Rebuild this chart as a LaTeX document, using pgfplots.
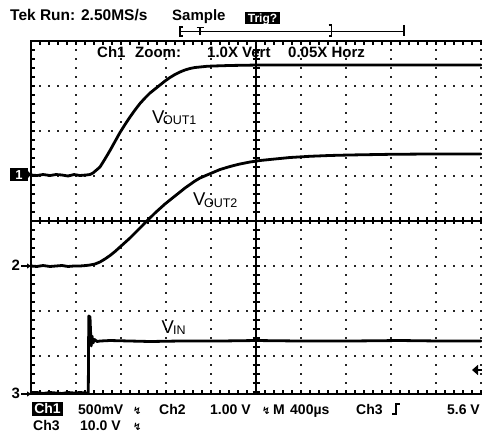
\documentclass[border=0pt]{standalone}
\usepackage{pgfplots}
\pgfplotsset{compat=1.18}
\usepackage{fontspec}
\setmainfont{Liberation Sans}
\newfontfamily\dejavu{DejaVu Sans}
\usetikzlibrary{arrows.meta}
\newcommand\tek{\fontsize{15}{15}\selectfont\bfseries}
\newcommand\tekb{\fontsize{14}{14}\selectfont\bfseries}
\newcommand\tekh{\fontsize{15.5}{15.5}\selectfont\bfseries}
\newcommand\lab{\fontsize{18.5}{18.5}\selectfont}
\newcommand\sublab{\fontsize{12.5}{12.5}\selectfont}
\newcommand\bw{{\dejavu\fontsize{10}{10}\selectfont\bfseries ↯}}
\pgfplotsset{trace/.style={black, line width=2.8pt, line join=round, line cap=round, mark=none}}
\begin{document}
\begin{tikzpicture}[x=1pt,y=1pt]
\path[use as bounding box] (0,0) rectangle (482,433);
\begin{scope}[shift={(0,433)},yscale=-1]
  % dotted graticule
  \foreach \k in {1,2,3,4,6,7,8,9,10} {
    \draw[black!85,line width=1.5pt, dash pattern=on 1.5pt off 7.5pt, dash phase=0.75pt] ({31+45*\k},41) -- ({31+45*\k},394);
  }
  \foreach \k in {1,2,3,5,6,7} {
    \draw[black!85,line width=1.5pt, dash pattern=on 1.5pt off 7.5pt, dash phase=0.75pt] (31,{41+45*\k}) -- (482,{41+45*\k});
  }
  % centre lines with minor ticks
  \draw[line width=1.2pt] (256,41) -- (256,394);
  \draw[line width=1.2pt] (31,221) -- (482,221);
  \foreach \j in {0,...,50} {
    \draw[line width=1.1pt] ({31+9*\j},217.5) -- ({31+9*\j},224.5);
    \draw[line width=1.1pt] ({31+9*\j},41) -- ({31+9*\j},45);
    \draw[line width=1.1pt] ({31+9*\j},394) -- ({31+9*\j},390);
  }
  \foreach \j in {0,...,39} {
    \draw[line width=1.1pt] (252.5,{41+9*\j}) -- (259.5,{41+9*\j});
    \draw[line width=1.1pt] (31,{41+9*\j}) -- (35,{41+9*\j});
  }
  % border
  \draw[line width=1.4pt] (482,41) -- (31,41) -- (31,394) -- (482,394);
  % header
  \node[anchor=base west, inner sep=0] at (10,21) {\tekh Tek Run: 2.50MS/s};
  \node[anchor=base west, inner sep=0] at (172,21) {\tek Sample};
  \fill (245,12.5) rectangle (280,24.5);
  \node[white, anchor=base, inner sep=0] at (262.5,23) {\fontsize{12}{12}\selectfont\bfseries Trig?};
  \draw[line width=1.3pt] (181,31.5) -- (404,31.5);
  \draw[line width=2pt] (183,27.5) -- (179.5,27.5) -- (179.5,36.5) -- (183,36.5);
  \draw[line width=1.8pt] (196.5,27.5) -- (203.5,27.5);
  \draw[line width=1.8pt] (200,27.5) -- (200,35);
  \draw[line width=1.8pt] (328.5,25) -- (331.5,25) -- (331.5,36) -- (328.5,36);
  \draw[line width=1.4pt] (404,25) -- (404,36);
  % zoom readout
  \node[anchor=base west, inner sep=0] at (97,58) {\tek Ch1};
  \node[anchor=base west, inner sep=0] at (135,58) {\tek Zoom:};
  \node[anchor=base west, inner sep=0] at (207,58) {\tek 1.0X Vert};
  \node[anchor=base west, inner sep=0] at (288,58) {\tek 0.05X Horz};
  % trace labels
  \node[anchor=base west, inner sep=0] at (152,123.5) {\lab V\kern-1.5pt\raisebox{-1pt}{\sublab OUT1}};
  \node[anchor=base west, inner sep=0] at (193,205.5) {\lab V\kern-1.5pt\raisebox{-2pt}{\sublab OUT2}};
  \node[anchor=base west, inner sep=0] at (161.5,333.3) {\lab V\kern-1pt\raisebox{-1.5pt}{\sublab IN}};
  % channel markers
  \fill (10,168) rectangle (28,181);
  \fill (28,171) -- (31,174.5) -- (28,178) -- cycle;
  \node[white, anchor=base, inner sep=0] at (19,179.5) {\fontsize{13}{13}\selectfont\bfseries 1};
  \node[anchor=base west, inner sep=0] at (11.5,271) {\tek 2};
  \draw[line width=1.3pt,-{Triangle[length=4pt,width=5pt]}] (21,266) -- (31,266);
  \node[anchor=base west, inner sep=0] at (11.5,399) {\tek 3};
  \draw[line width=1.3pt,-{Triangle[length=4pt,width=5pt]}] (21,394) -- (31,394);
  % trigger level
  \draw[line width=2.5pt,-{Triangle[length=6pt,width=10pt]}] (484,370) -- (472,370);
  % bottom readout
  \fill (32,402.5) rectangle (63,416);
  \node[white, anchor=base, inner sep=0] at (47.5,414) {\tekb Ch1};
  \node[anchor=base west, inner sep=0] at (78,414.5) {\tekb 500mV};
  \node[anchor=base west, inner sep=0] at (133,414.5) {\bw};
  \node[anchor=base west, inner sep=0] at (159,414.5) {\tekb Ch2};
  \node[anchor=base west, inner sep=0] at (210,414.5) {\tekb 1.00 V};
  \node[anchor=base west, inner sep=0] at (262,414.5) {\bw};
  \node[anchor=base west, inner sep=0] at (273,414.5) {\tekb M};
  \node[anchor=base west, inner sep=0] at (290,414.5) {\tekb 400µs};
  \node[anchor=base west, inner sep=0] at (356,414.5) {\tekb Ch3};
  \draw[line width=1.8pt] (392,414) -- (396,414) -- (396,404) -- (400,404);
  \node[anchor=base east, inner sep=0] at (480,414.5) {\tekb 5.6 V};
  \node[anchor=base west, inner sep=0] at (33,430.5) {\tekb Ch3};
  \node[anchor=base west, inner sep=0] at (80,430.5) {\tekb 10.0 V};
  \node[anchor=base west, inner sep=0] at (133,430.5) {\bw};
\end{scope}
\begin{axis}[at={(31pt,39pt)}, anchor=south west, scale only axis,
  width=450pt, height=353pt, xmin=-5, xmax=5, ymin=-3.8444, ymax=4,
  hide axis, clip=false]
% V_OUT1 (Ch1), in divisions
\addplot[trace] coordinates {
(-5.000,1.022) (-4.867,1.011) (-4.733,1.033) (-4.578,1.011) (-4.444,1.033) (-4.311,1.022) (-4.178,1.000) (-4.044,1.033) (-3.911,1.011) (-3.778,1.022) (-3.689,1.033) (-3.622,1.067) (-3.467,1.200) (-3.356,1.378) (-3.244,1.567) (-3.133,1.767) (-3.022,1.967) (-2.911,2.144) (-2.800,2.311) (-2.689,2.467) (-2.578,2.611) (-2.467,2.733) (-2.356,2.844) (-2.244,2.933) (-2.133,3.022) (-2.022,3.111) (-1.911,3.189) (-1.800,3.256) (-1.689,3.311) (-1.578,3.356) (-1.467,3.389) (-1.356,3.411) (-1.244,3.422) (-1.089,3.438) (-0.956,3.444) (-0.578,3.456) (0.089,3.467) (5.000,3.467)
};
% V_OUT2 (Ch2)
\addplot[trace] coordinates {
(-5.000,-1.000) (-4.867,-1.011) (-4.733,-0.989) (-4.578,-1.011) (-4.444,-1.000) (-4.311,-0.989) (-4.178,-1.011) (-4.044,-1.000) (-3.911,-1.000) (-3.778,-0.989) (-3.689,-0.978) (-3.578,-0.956) (-3.467,-0.911) (-3.356,-0.844) (-3.244,-0.767) (-3.133,-0.678) (-3.022,-0.578) (-2.911,-0.478) (-2.800,-0.378) (-2.689,-0.267) (-2.578,-0.156) (-2.467,-0.044) (-2.356,0.067) (-2.244,0.178) (-2.133,0.278) (-2.022,0.378) (-1.911,0.467) (-1.800,0.556) (-1.689,0.644) (-1.578,0.733) (-1.467,0.811) (-1.356,0.889) (-1.244,0.956) (-1.089,1.022) (-0.956,1.078) (-0.800,1.144) (-0.578,1.211) (-0.356,1.267) (-0.133,1.311) (0.089,1.344) (0.311,1.367) (0.756,1.411) (1.200,1.438) (1.644,1.456) (2.089,1.467) (2.978,1.482) (3.867,1.489) (5.000,1.489)
};
% V_IN (Ch3)
\addplot[trace] coordinates {
(-5.000,-3.822) (-4.867,-3.811) (-4.733,-3.833) (-4.578,-3.811) (-4.444,-3.822) (-4.311,-3.833) (-4.178,-3.811) (-4.044,-3.822) (-3.911,-3.811) (-3.778,-3.822) (-3.727,-3.822) (-3.716,-2.111) (-3.689,-2.133) (-3.676,-2.467) (-3.662,-2.778) (-3.644,-2.556) (-3.622,-2.711) (-3.589,-2.633) (-3.533,-2.678) (-3.467,-2.667) (-3.244,-2.656) (-2.800,-2.667) (-2.356,-2.678) (-1.689,-2.667) (-0.800,-2.667) (0.000,-2.656) (0.978,-2.667) (2.089,-2.667) (3.200,-2.656) (4.089,-2.667) (5.000,-2.667)
};
\end{axis}
\end{tikzpicture}
\end{document}
